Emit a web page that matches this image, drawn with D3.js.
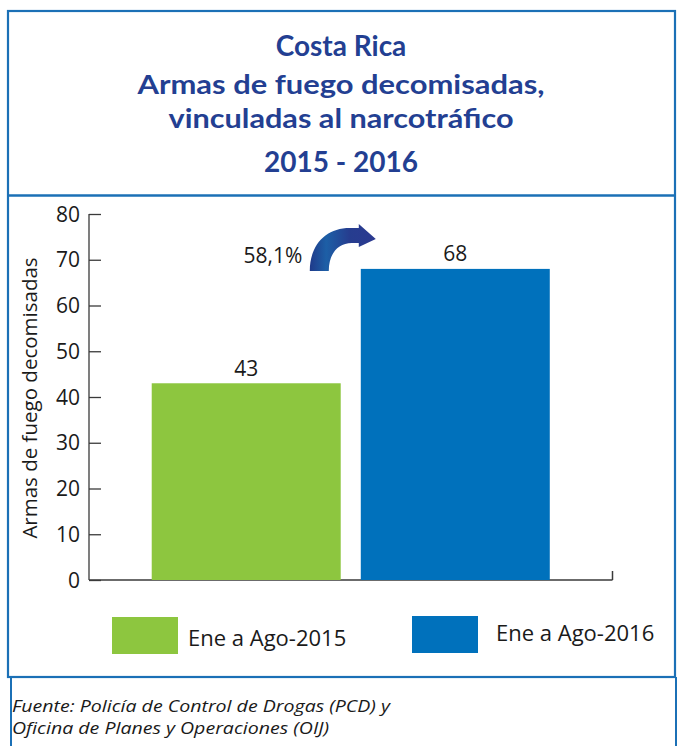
<!DOCTYPE html>
<html><head><meta charset="utf-8">
<script src="https://cdn.jsdelivr.net/npm/d3@7"></script>
<style>body{margin:0;background:#fff}svg{display:block}</style>
</head><body>
<script>
const categories = ["Ene a Ago-2015", "Ene a Ago-2016"];
const values = [43, 68];
const colors = ["#8dc63f", "#0071bc"];
const yTicks = [0, 10, 20, 30, 40, 50, 60, 70, 80];
const changeLabel = "58,1%";
const titleLines = ["Costa Rica", "Armas de fuego decomisadas,", "vinculadas al narcotráfico", "2015 - 2016"];
const yAxisTitle = "Armas de fuego decomisadas";
const sourceLines = ["Fuente: Policía de Control de Drogas (PCD) y", "Oficina de Planes y Operaciones (OIJ)"];

const W = 678, H = 746;
const svg = d3.select("body").append("svg").attr("width", W).attr("height", H);
const border = "#1b70b6";
const titleColor = "#233f92";
const txt = "#1a1a1a";
const sans = "'Open Sans', 'Noto Sans', sans-serif";

// Frames
svg.append("rect").attr("x", 8).attr("y", 11).attr("width", 667).attr("height", 666)
  .attr("fill", "none").attr("stroke", border).attr("stroke-width", 2.2);
svg.append("line").attr("x1", 8).attr("x2", 675).attr("y1", 195.5).attr("y2", 195.5)
  .attr("stroke", border).attr("stroke-width", 2.5);
svg.append("line").attr("x1", 11).attr("x2", 11).attr("y1", 677).attr("y2", 746)
  .attr("stroke", border).attr("stroke-width", 2);
svg.append("line").attr("x1", 676).attr("x2", 676).attr("y1", 677).attr("y2", 746)
  .attr("stroke", border).attr("stroke-width", 2);

// Titles
const titleY = [46, 84, 118, 162];
const titleSize = [28, 27.5, 27.5, 28];
const titleLen = [null, 407, 345, null];
titleLines.forEach((t, i) => {
  const el = svg.append("text").attr("x", 341).attr("y", titleY[i]).attr("dy", "0.35em")
    .attr("text-anchor", "middle").attr("fill", titleColor)
    .attr("font-family", "Lato, 'Open Sans', sans-serif").attr("font-weight", "bold")
    .attr("font-size", titleSize[i]).text(t);
  if (titleLen[i]) el.attr("textLength", titleLen[i]).attr("lengthAdjust", "spacingAndGlyphs");
});

// Scales
const x = d3.scaleBand().domain(categories).range([89, 612.5]).paddingInner(0.096).paddingOuter(0.30);
const y = d3.scaleLinear().domain([0, 80]).range([580, 214]);

// Axes
const axisColor = "#3a3a3a";
const yAxis = svg.append("g").attr("transform", "translate(89,0)")
  .call(d3.axisRight(y).tickValues(yTicks).tickSize(12).tickFormat(""));
yAxis.select(".domain").remove();
yAxis.selectAll("line").attr("stroke", axisColor).attr("stroke-width", 1.3);
svg.append("line").attr("x1", 89).attr("x2", 89).attr("y1", y(80)).attr("y2", y(0))
  .attr("stroke", axisColor).attr("stroke-width", 1.3);
svg.selectAll(".ylab").data(yTicks).enter().append("text")
  .attr("x", 80).attr("y", d => y(d)).attr("dy", "0.36em").attr("text-anchor", "end")
  .attr("font-family", sans).attr("font-size", 21).attr("fill", txt).text(d => d);

svg.append("line").attr("x1", 89).attr("x2", x.range()[1]).attr("y1", y(0)).attr("y2", y(0))
  .attr("stroke", axisColor).attr("stroke-width", 1.3);
svg.append("line").attr("x1", x.range()[1]).attr("x2", x.range()[1]).attr("y1", y(0)).attr("y2", y(0) - 9)
  .attr("stroke", axisColor).attr("stroke-width", 1.5);

svg.append("text").attr("transform", `translate(30,${(258 + 538) / 2}) rotate(-90)`)
  .attr("dy", "0.35em").attr("text-anchor", "middle")
  .attr("font-family", sans).attr("font-size", 20.5).attr("fill", txt).text(yAxisTitle);

// Bars
svg.selectAll(".bar").data(values).enter().append("rect")
  .attr("x", (d, i) => x(categories[i])).attr("width", x.bandwidth())
  .attr("y", d => y(d)).attr("height", d => y(0) - y(d))
  .attr("fill", (d, i) => colors[i]);
svg.selectAll(".vlab").data(values).enter().append("text")
  .attr("x", (d, i) => x(categories[i]) + x.bandwidth() / 2).attr("y", d => y(d) - 15)
  .attr("dy", "0.35em").attr("text-anchor", "middle")
  .attr("font-family", sans).attr("font-size", 21).attr("fill", txt).text(d => d);

// Change annotation
const defs = svg.append("defs");
const g = defs.append("linearGradient").attr("id", "arrowGrad").attr("x1", "0").attr("x2", "1").attr("y1", "0").attr("y2", "0");
g.append("stop").attr("offset", "0").attr("stop-color", "#1f3a8a");
g.append("stop").attr("offset", "0.25").attr("stop-color", "#1d5fa6");
g.append("stop").attr("offset", "0.6").attr("stop-color", "#263d8f");
g.append("stop").attr("offset", "1").attr("stop-color", "#2b3990");

const ax = x(categories[1]) - 51, ay = y(values[1]) + 2; // bottom-left of arrow band
const arrowPath = `M0,0 C0,-26 16,-43 40,-43 L49,-43 L49,-47 L66,-32 L49,-24 L49,-28 L42,-28 C28,-28 19,-17 19,0 Z`;
svg.append("path").attr("transform", `translate(${ax},${ay})`).attr("d", arrowPath).attr("fill", "url(#arrowGrad)");

svg.append("text").attr("x", 273).attr("y", y(71)).attr("dy", "0.35em").attr("text-anchor", "middle")
  .attr("font-family", sans).attr("font-size", 21).attr("fill", txt).text(changeLabel);

// Legend
const legX = [112, 412], legY = [617, 616], legTextX = [188, 496], legTextY = [638, 633];
categories.forEach((c, i) => {
  svg.append("rect").attr("x", legX[i]).attr("y", legY[i]).attr("width", 66).attr("height", 37).attr("fill", colors[i]);
  svg.append("text").attr("x", legTextX[i]).attr("y", legTextY[i]).attr("dy", "0.35em")
    .attr("font-family", sans).attr("font-size", 22).attr("fill", txt).text(c);
});

// Source
const sourceLen = [378, 317];
sourceLines.forEach((s, i) => {
  svg.append("text").attr("x", 12).attr("y", 706 + i * 22).attr("dy", "0.35em")
    .attr("font-family", sans).attr("font-style", "italic").attr("font-size", 16.5).attr("fill", txt)
    .attr("textLength", sourceLen[i]).attr("lengthAdjust", "spacingAndGlyphs").text(s);
});
</script>
</body></html>
